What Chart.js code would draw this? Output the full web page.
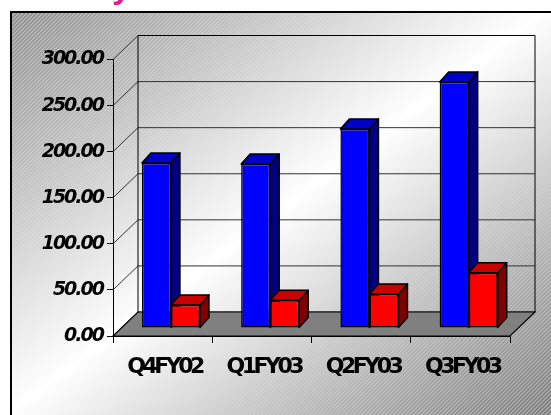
<!DOCTYPE html>
<html lang="en">
<head>
    <meta charset="UTF-8">
    <title>Quarterly bars</title>
    <script src="https://cdn.jsdelivr.net/npm/chart.js@4.4.1/dist/chart.umd.min.js"></script>
    <style>
        body { margin: 0; background: #fff; }
    </style>
</head>
<body>
<canvas id="myChart" width="551" height="415"></canvas>

<script>
    const quarters = ['Q4FY02', 'Q1FY03', 'Q2FY03', 'Q3FY03'];
    const blueSeries = [179, 178, 216, 267];
    const redSeries = [25, 30, 37, 60];
    const yTickValues = [0, 50, 100, 150, 200, 250, 300];

    // 3d look: depth of the walls and of the bars
    var WALL_DX = 25, WALL_DY = -24;
    var ROW_DX = 8.3, ROW_DY = -8;     // where the bars stand on the floor
    var BAR_DX = 9, BAR_DY = -10;      // thickness of a bar

    var backdrop = {
        id: 'backdrop',
        beforeDraw(chart) {
            var ctx = chart.ctx, w = chart.width, h = chart.height;
            ctx.save();
            ctx.fillStyle = '#fff';
            ctx.fillRect(0, 0, w, h);

            ctx.beginPath();
            ctx.rect(11, 12, w, h);
            ctx.clip();
            var g = ctx.createLinearGradient(11, 12, 395, 524);
            g.addColorStop(0, '#9a9a9a');
            g.addColorStop(0.5, '#ffffff');
            g.addColorStop(1, '#8a8a8a');
            ctx.fillStyle = g;
            ctx.fillRect(11, 12, w, h);

            // diagonal hatch, strongest where the fill is grey
            var off = document.createElement('canvas');
            off.width = w; off.height = h;
            var o = off.getContext('2d');
            o.lineWidth = 1;
            for (var k = -h; k < w + h; k += 4) {
                o.strokeStyle = 'rgba(255,255,255,0.35)';
                o.beginPath(); o.moveTo(k, h); o.lineTo(k + h, 0); o.stroke();
                o.strokeStyle = 'rgba(0,0,0,0.10)';
                o.beginPath(); o.moveTo(k + 2, h); o.lineTo(k + 2 + h, 0); o.stroke();
            }
            o.globalCompositeOperation = 'destination-in';
            var m = o.createLinearGradient(11, 12, 395, 524);
            m.addColorStop(0, 'rgba(0,0,0,1)');
            m.addColorStop(0.35, 'rgba(0,0,0,0)');
            m.addColorStop(0.65, 'rgba(0,0,0,0)');
            m.addColorStop(1, 'rgba(0,0,0,1)');
            o.fillStyle = m;
            o.fillRect(0, 0, w, h);
            ctx.drawImage(off, 0, 0);
            ctx.restore();

            ctx.save();
            ctx.strokeStyle = '#000';
            ctx.lineWidth = 2;
            ctx.strokeRect(11, 12, w + 10, h + 10);
            // the title is cut off, only the tail of its "y" shows
            ctx.beginPath();
            ctx.rect(100, 0, 40, 6);
            ctx.clip();
            ctx.fillStyle = '#e3198f';
            ctx.font = 'bold 34px "Liberation Sans", Arial';
            ctx.textBaseline = 'bottom';
            ctx.fillText('y', 112, 6);
            ctx.restore();
        }
    };

    var threeD = {
        id: 'threeD',
        beforeDatasetsDraw(chart) {
            var ctx = chart.ctx, a = chart.chartArea;
            var y = chart.scales.y;
            ctx.save();
            ctx.strokeStyle = '#333';
            ctx.lineWidth = 1;
            yTickValues.forEach(function (v) {
                var py = y.getPixelForValue(v);
                ctx.beginPath();
                ctx.moveTo(a.left, py);
                ctx.lineTo(a.left + WALL_DX, py + WALL_DY);
                ctx.lineTo(a.right + WALL_DX, py + WALL_DY);
                ctx.stroke();
            });
            ctx.strokeStyle = '#000';
            ctx.beginPath();
            ctx.moveTo(a.left + WALL_DX, a.bottom + WALL_DY);
            ctx.lineTo(a.left + WALL_DX, a.top + WALL_DY);
            ctx.lineTo(a.right + WALL_DX, a.top + WALL_DY);
            ctx.lineTo(a.right + WALL_DX, a.bottom + WALL_DY);
            ctx.stroke();

            // floor
            ctx.beginPath();
            ctx.moveTo(a.left, a.bottom);
            ctx.lineTo(a.right, a.bottom);
            ctx.lineTo(a.right + WALL_DX, a.bottom + WALL_DY);
            ctx.lineTo(a.left + WALL_DX, a.bottom + WALL_DY);
            ctx.closePath();
            ctx.fillStyle = '#808080';
            ctx.fill();
            ctx.lineWidth = 1.2;
            ctx.stroke();
            ctx.restore();

            // bars stand a bit back on the floor; left open until afterDatasetsDraw
            ctx.save();
            ctx.translate(ROW_DX, ROW_DY);
            ctx.lineWidth = 1.5;
            ctx.strokeStyle = '#000';
            ctx.lineJoin = 'round';
            chart.data.datasets.forEach(function (ds, i) {
                chart.getDatasetMeta(i).data.forEach(function (bar) {
                    var p = bar.getProps(['x', 'y', 'base', 'width'], true);
                    var l = p.x - p.width / 2, r = p.x + p.width / 2;
                    ctx.fillStyle = ds.sideColor;
                    ctx.beginPath();
                    ctx.moveTo(r, p.y);
                    ctx.lineTo(r + BAR_DX, p.y + BAR_DY);
                    ctx.lineTo(r + BAR_DX, p.base + BAR_DY);
                    ctx.lineTo(r, p.base);
                    ctx.closePath();
                    ctx.fill(); ctx.stroke();
                    ctx.fillStyle = ds.topColor;
                    ctx.beginPath();
                    ctx.moveTo(l, p.y);
                    ctx.lineTo(l + BAR_DX, p.y + BAR_DY);
                    ctx.lineTo(r + BAR_DX, p.y + BAR_DY);
                    ctx.lineTo(r, p.y);
                    ctx.closePath();
                    ctx.fill(); ctx.stroke();
                });
            });
        },
        afterDatasetsDraw(chart) {
            chart.ctx.restore();
        }
    };

    // narrow the tick texts like the original
    var condensed = {
        id: 'condensed',
        afterLayout(chart) {
            [['x', '-3.5px', 2], ['y', '-2px', 0]].forEach(function (it) {
                var s = chart.scales[it[0]];
                if (s._condensed) return;
                var draw = s.drawLabels.bind(s);
                s.drawLabels = function (area) {
                    chart.ctx.save();
                    chart.ctx.letterSpacing = it[1];
                    chart.ctx.translate(it[2], 0);
                    draw(area);
                    chart.ctx.restore();
                };
                s._condensed = true;
            });
        }
    };

    var ctx = document.getElementById('myChart');

    var myChart = new Chart(ctx, {
        type: 'bar',
        data: {
            labels: quarters,
            datasets: [{
                data: blueSeries,
                backgroundColor: '#0000ff',
                topColor: '#0000c8',
                sideColor: '#000080',
                borderColor: '#000',
                borderWidth: 1.5,
                borderSkipped: false,
                clip: false
            }, {
                data: redSeries,
                backgroundColor: '#ff0000',
                topColor: '#c80000',
                sideColor: '#800000',
                borderColor: '#000',
                borderWidth: 1.5,
                borderSkipped: false,
                clip: false
            }]
        },
        options: {
            responsive: false,
            animation: false,
            datasets: {
                bar: { categoryPercentage: 0.585, barPercentage: 1 }
            },
            layout: {
                padding: { left: 0, right: 41, top: 59.5, bottom: 29 }
            },
            plugins: {
                legend: false,
                tooltip: { enabled: false }
            },
            scales: {
                x: {
                    grid: { drawOnChartArea: false, tickLength: 7, color: '#000', offset: true },
                    border: { color: '#000', width: 1 },
                    ticks: {
                        color: '#000',
                        padding: 11,
                        maxRotation: 0,
                        autoSkip: false,
                        font: { family: '"DejaVu Sans", sans-serif', size: 22, weight: 'bold' }
                    },
                    afterFit(s) { s.height = 50; }
                },
                y: {
                    min: 0,
                    max: 300,
                    afterBuildTicks(s) { s.ticks = yTickValues.map(v => ({ value: v })); },
                    grid: { drawOnChartArea: false, tickLength: 6, color: '#000' },
                    border: { color: '#000', width: 1 },
                    ticks: {
                        color: '#000',
                        padding: 4,
                        callback: v => v.toFixed(2),
                        font: { family: '"DejaVu Sans", sans-serif', size: 19, weight: 'bold', style: 'italic' }
                    },
                    afterFit(s) { s.width = 113; }
                }
            }
        },
        plugins: [backdrop, threeD, condensed]
    });
</script>
</body>
</html>
